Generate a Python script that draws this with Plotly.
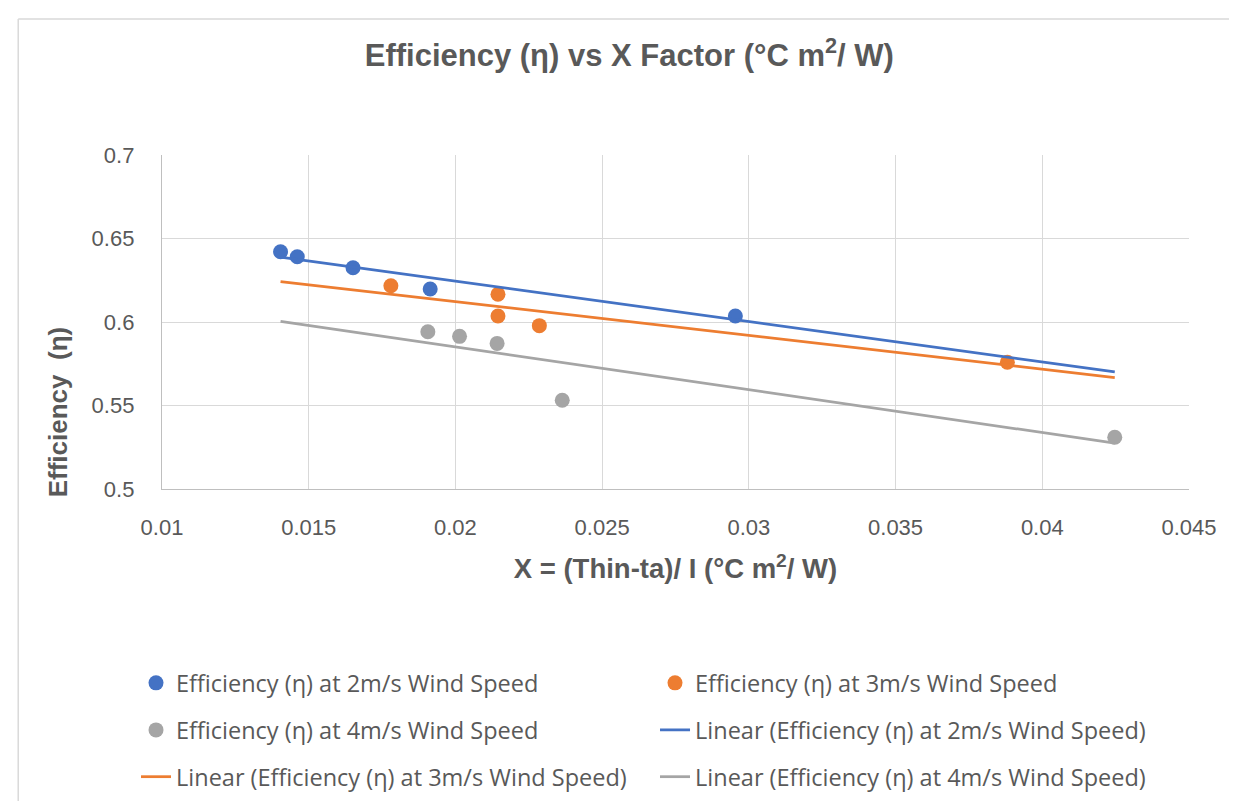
import numpy as np
import plotly.graph_objects as go

# data
x_2ms = [0.01404, 0.01461, 0.01651, 0.01914, 0.02954]
eff_2ms = [0.6421, 0.6391, 0.6325, 0.6198, 0.6036]

x_3ms = [0.01780, 0.02145, 0.02145, 0.02286, 0.03881]
eff_3ms = [0.6217, 0.6166, 0.6036, 0.5978, 0.5759]

x_4ms = [0.01906, 0.02014, 0.02142, 0.02364, 0.04247]
eff_4ms = [0.5942, 0.5914, 0.5872, 0.5531, 0.5310]

x_ticks = [0.01, 0.015, 0.02, 0.025, 0.03, 0.035, 0.04, 0.045]
y_ticks = [0.5, 0.55, 0.6, 0.65, 0.7]

series = [
    ("2m/s", x_2ms, eff_2ms, "#4472C4"),
    ("3m/s", x_3ms, eff_3ms, "#ED7D31"),
    ("4m/s", x_4ms, eff_4ms, "#A5A5A5"),
]

# trendlines span the full x range of all the data (like excel does here)
all_x = x_2ms + x_3ms + x_4ms
x_lo, x_hi = min(all_x), max(all_x)

legend_of = {"2m/s": "legend", "3m/s": "legend", "4m/s": "legend2"}
line_legend_of = {"2m/s": "legend2", "3m/s": "legend3", "4m/s": "legend3"}

fig = go.Figure()
for name, xs, ys, col in series:
    fig.add_trace(go.Scatter(
        x=xs, y=ys, mode="markers",
        name=f"Efficiency (η) at {name} Wind Speed",
        marker=dict(color=col, size=15),
        legend=legend_of[name],
    ))
for name, xs, ys, col in series:
    slope, icpt = np.polyfit(xs, ys, 1)
    fig.add_trace(go.Scatter(
        x=[x_lo, x_hi], y=[slope * x_lo + icpt, slope * x_hi + icpt],
        mode="lines",
        name=f"Linear (Efficiency (η) at {name} Wind Speed)",
        line=dict(color=col, width=2.75),
        legend=line_legend_of[name],
    ))

txt = "#595959"
leg_common = dict(orientation="h", entrywidth=474, entrywidthmode="pixels",
                  x=-0.0253, xanchor="left", yanchor="middle",
                  font=dict(family="Open Sans", size=23.5, color=txt),
                  bgcolor="rgba(0,0,0,0)")

fig.update_layout(
    width=1221, height=793,
    margin=dict(l=154, r=40, t=147, b=312, autoexpand=False),
    paper_bgcolor="white", plot_bgcolor="white",
    font=dict(family="Liberation Sans", color=txt),
    title=dict(text="<b>Efficiency (η) vs X Factor (°C m<sup>2</sup>/ W)</b>",
               x=0.455, xref="paper", xanchor="center",
               y=1 - 47 / 793, yanchor="middle",
               font=dict(size=31, color=txt, family="Liberation Sans")),
    xaxis=dict(range=[0.01, 0.045], tickvals=x_ticks,
               ticktext=[f"{v:g}" for v in x_ticks],
               showgrid=True, gridcolor="#D9D9D9", gridwidth=1.3,
               showline=True, linecolor="#BFBFBF", linewidth=1.3,
               zeroline=False, ticks="", ticklabelstandoff=18,
               tickfont=dict(size=22, color=txt),
               title=dict(text="<b>X = (Thin-ta)/ I (°C m<sup>2</sup>/ W)</b>",
                          font=dict(size=27.5, color=txt), standoff=20)),
    yaxis=dict(range=[0.5, 0.7], tickvals=y_ticks,
               ticktext=[f"{v:g}" for v in y_ticks],
               showgrid=True, gridcolor="#D9D9D9", gridwidth=1.3,
               showline=True, linecolor="#BFBFBF", linewidth=1.3,
               zeroline=False, ticks="", ticklabelstandoff=22,
               tickfont=dict(size=22, color=txt)),
    legend=dict(y=-0.581, **leg_common),
    legend2=dict(y=-0.722, **leg_common),
    legend3=dict(y=-0.862, **leg_common),
    showlegend=True,
)

# y axis title sits low in the reference, so place it by hand
fig.add_annotation(text="<b>Efficiency  (η)</b>", textangle=-90,
                   xref="paper", yref="paper", x=-0.101, y=0.2305,
                   xanchor="center", yanchor="middle", showarrow=False,
                   font=dict(size=26, color=txt))

# light chart-area border: only its top and left edges are in view
border = dict(color="#D9D9D9", width=1.5)
fig.add_shape(type="line", xref="paper", yref="paper",
              x0=-0.14, x1=1.05, y0=1.407, y1=1.407, line=border, layer="below")
fig.add_shape(type="line", xref="paper", yref="paper",
              x0=-0.14, x1=-0.14, y0=-1.0, y1=1.407, line=border, layer="below")

fig.write_html("out.html")
